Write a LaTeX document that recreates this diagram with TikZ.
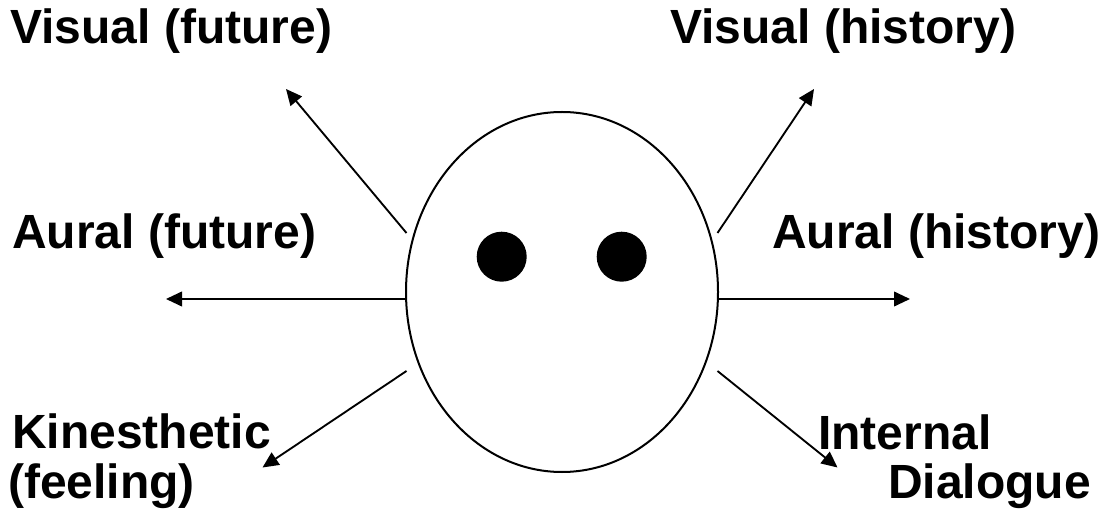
\documentclass[tikz,border=0pt]{standalone}
\usepackage{fontspec}
\setmainfont{Liberation Sans}
\usetikzlibrary{arrows.meta,shapes.geometric}
\begin{document}
\begin{tikzpicture}[x=0.75pt,y=-0.75pt,
  lbl/.style={font=\fontsize{36}{38}\selectfont\bfseries, inner sep=0pt, anchor=base west},
  ray/.style={line width=1.4pt, -{Triangle[length=12pt,width=11pt]}},
  eye/.style={circle, fill=black, minimum size=37.5pt, inner sep=0pt},
  headshape/.style={draw, ellipse, line width=1.5pt, minimum width=234pt, minimum height=270pt, inner sep=0pt}]
\useasboundingbox (0,0) rectangle (1099,516);

% head and eyes
\node[headshape] (head) at (562,292) {};
\node[eye] (leye) at (501.7,256.7) {};
\node[eye] (reye) at (621.7,256.7) {};

% labels
\node[lbl] (vf) at (10,44) {Visual (future)};
\node[lbl] (vh) at (670,44) {Visual (history)};
\node[lbl] (af) at (12,249) {Aural (future)};
\node[lbl] (ah) at (772,249) {Aural (history)};
\node[lbl] (kin1) at (12,448) {Kinesthetic};
\node[lbl] (kin2) at (8,498) {(feeling)};
\node[lbl] (int1) at (818,449) {Internal};
\node[lbl] (int2) at (888,498) {Dialogue};

% ray start points around the head
\coordinate (sUL) at (406.5,233);
\coordinate (sUR) at (717.5,233);
\coordinate (sL)  at (405,299);
\coordinate (sR)  at (719,299);
\coordinate (sLL) at (406.5,371);
\coordinate (sLR) at (717.5,371);

% ray end points
\coordinate (eUL) at (286,89);
\coordinate (eUR) at (814,89);
\coordinate (eL)  at (166,299);
\coordinate (eR)  at (910,299);
\coordinate (eLL) at (262.5,467.5);
\coordinate (eLR) at (837.5,467.5);

\draw[ray] (sUL) -- (eUL);
\draw[ray] (sUR) -- (eUR);
\draw[ray] (sL) -- (eL);
\draw[ray] (sR) -- (eR);
\draw[ray] (sLL) -- (eLL);
\draw[ray] (sLR) -- (eLR);
\end{tikzpicture}
\end{document}
